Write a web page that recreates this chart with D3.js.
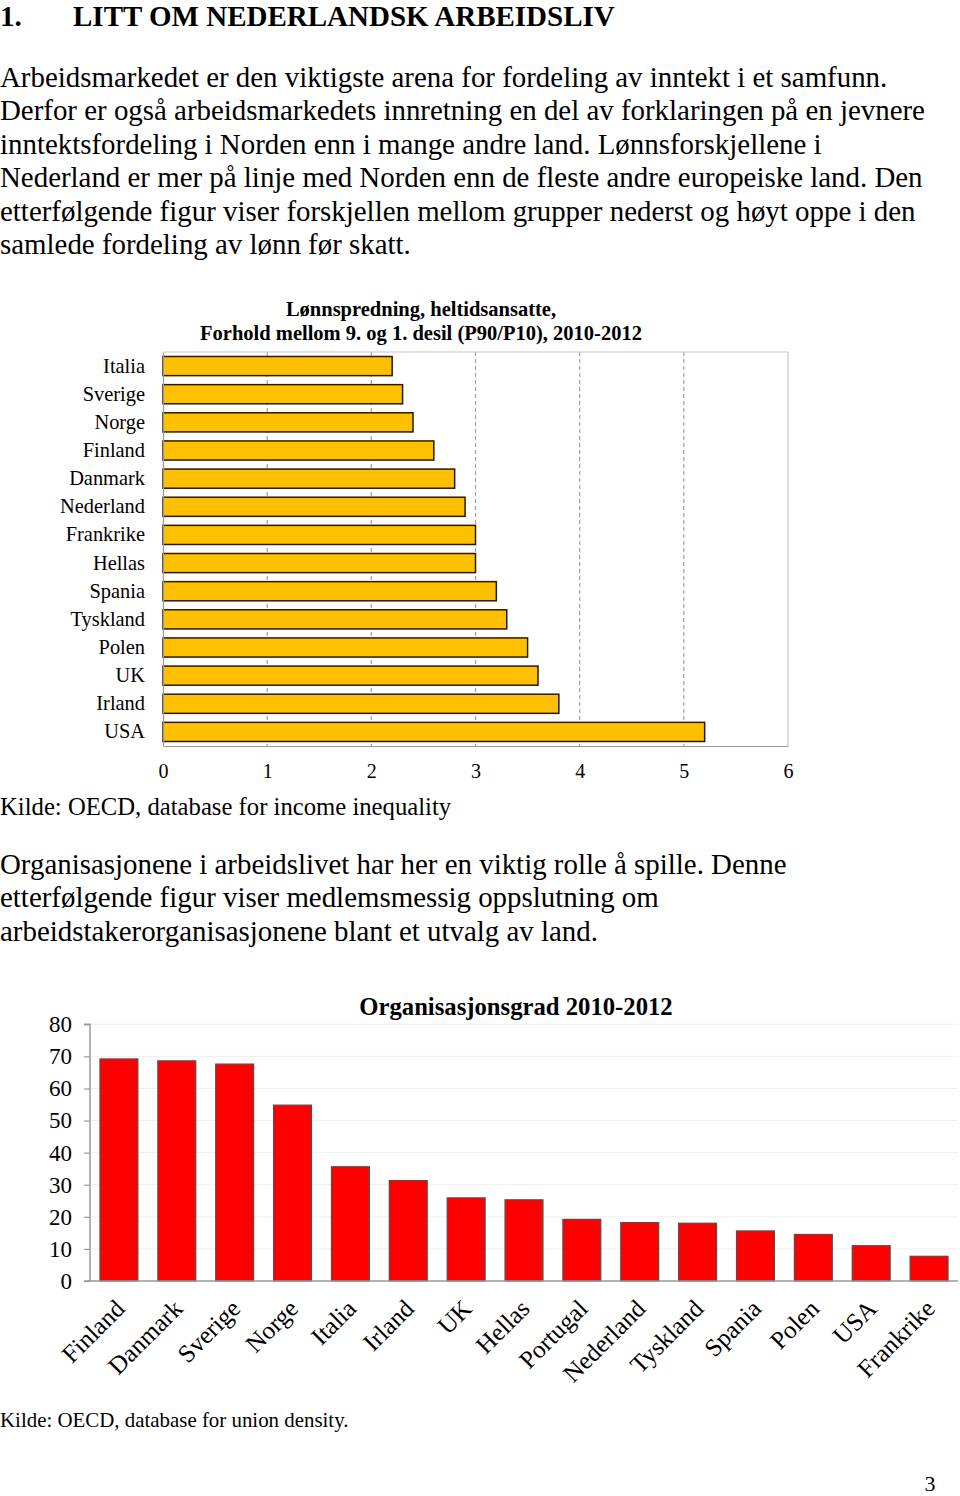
<!DOCTYPE html>
<html>
<head>
<meta charset="utf-8">
<script src="https://cdn.jsdelivr.net/npm/d3@7"></script>
<style>
  html, body { margin: 0; padding: 0; background: #fff; }
  svg { display: block; }
  text { font-family: "Liberation Serif", "Times New Roman", serif; fill: #000; }
</style>
</head>
<body>
<svg id="page" width="960" height="1496"></svg>
<script>
// ---- Data ----
const headingNumber = "1.";
const headingText = "LITT OM NEDERLANDSK ARBEIDSLIV";
const para1 = [
  "Arbeidsmarkedet er den viktigste arena for fordeling av inntekt i et samfunn.",
  "Derfor er også arbeidsmarkedets innretning en del av forklaringen på en jevnere",
  "inntektsfordeling i Norden enn i mange andre land. Lønnsforskjellene i",
  "Nederland er mer på linje med Norden enn de fleste andre europeiske land. Den",
  "etterfølgende figur viser forskjellen mellom grupper nederst og høyt oppe i den",
  "samlede fordeling av lønn før skatt."
];
const para2 = [
  "Organisasjonene i arbeidslivet har her en viktig rolle å spille. Denne",
  "etterfølgende figur viser medlemsmessig oppslutning om",
  "arbeidstakerorganisasjonene blant et utvalg av land."
];

const chart1Title = ["Lønnspredning, heltidsansatte,", "Forhold mellom 9. og 1. desil (P90/P10), 2010-2012"];
const chart1Countries = ["Italia","Sverige","Norge","Finland","Danmark","Nederland","Frankrike","Hellas","Spania","Tyskland","Polen","UK","Irland","USA"];
const chart1Values = [2.2, 2.3, 2.4, 2.6, 2.8, 2.9, 3.0, 3.0, 3.2, 3.3, 3.5, 3.6, 3.8, 5.2];
const chart1Ticks = [0, 1, 2, 3, 4, 5, 6];
const chart1Source = "Kilde: OECD, database for income inequality";

const chart2Title = "Organisasjonsgrad 2010-2012";
const chart2Countries = ["Finland","Danmark","Sverige","Norge","Italia","Irland","UK","Hellas","Portugal","Nederland","Tyskland","Spania","Polen","USA","Frankrike"];
const chart2Values = [69.2, 68.6, 67.6, 54.8, 35.6, 31.3, 25.9, 25.3, 19.2, 18.2, 18.0, 15.6, 14.5, 11.0, 7.7];
const chart2Ticks = [0, 10, 20, 30, 40, 50, 60, 70, 80];
const chart2Source = "Kilde: OECD, database for union density.";
const pageNumber = "3";

// ---- Page text ----
const svg = d3.select("#page");

svg.append("text").attr("x", 0).attr("y", 26).attr("font-size", 29).attr("font-weight", "bold").text(headingNumber);
svg.append("text").attr("x", 73).attr("y", 26).attr("font-size", 29).attr("font-weight", "bold").text(headingText);

svg.append("g").selectAll("text").data(para1).join("text")
  .attr("x", 0).attr("y", (d, i) => 87 + i * 33.4)
  .attr("font-size", 28.9).text(d => d);

svg.append("g").selectAll("text").data(para2).join("text")
  .attr("x", 0).attr("y", (d, i) => 874 + i * 33.4)
  .attr("font-size", 28.9).text(d => d);

// ---- Chart 1: horizontal bars ----
const c1 = { left: 163, right: 788, top: 352, bottom: 746 };
const x1 = d3.scaleLinear().domain([0, 6]).range([c1.left, c1.right]);
const y1 = d3.scaleBand().domain(chart1Countries).range([c1.top, c1.bottom]).paddingInner(0.32).paddingOuter(0.16);

const g1 = svg.append("g");

g1.append("g").selectAll("text").data(chart1Title).join("text")
  .attr("x", 421).attr("y", (d, i) => 316 + i * 24)
  .attr("text-anchor", "middle").attr("font-size", 20.5).attr("font-weight", "bold").text(d => d);

// gridlines (dashed) 1..5
g1.append("g").selectAll("line").data(chart1Ticks.filter(t => t > 0 && t < 6)).join("line")
  .attr("x1", d => x1(d)).attr("x2", d => x1(d))
  .attr("y1", c1.top).attr("y2", c1.bottom)
  .attr("stroke", "#a0a0a0").attr("stroke-width", 1.2).attr("stroke-dasharray", "4,3");
// frame: top, right solid light grey
g1.append("line").attr("x1", c1.left).attr("x2", c1.right).attr("y1", c1.top).attr("y2", c1.top)
  .attr("stroke", "#c8c8c8").attr("stroke-width", 1.2);
g1.append("line").attr("x1", x1(6)).attr("x2", x1(6)).attr("y1", c1.top).attr("y2", c1.bottom)
  .attr("stroke", "#c8c8c8").attr("stroke-width", 1.2);

// bars
g1.append("g").selectAll("rect").data(chart1Values).join("rect")
  .attr("x", x1(0))
  .attr("y", (d, i) => y1(chart1Countries[i]))
  .attr("width", d => x1(d) - x1(0))
  .attr("height", y1.bandwidth())
  .attr("fill", "#FFC000").attr("stroke", "#2a1a05").attr("stroke-width", 1.5);

// axes
const xAxis1 = d3.axisBottom(x1).tickValues(chart1Ticks).tickSize(0).tickPadding(18).tickFormat(d3.format("d"));
g1.append("g").attr("transform", `translate(0,${c1.bottom})`).call(xAxis1)
  .call(g => g.select(".domain").attr("stroke", "#999").attr("stroke-width", 1.2))
  .call(g => g.selectAll("text").attr("font-size", 20).attr("font-family", "Liberation Serif").attr("fill", "#000"));

const yAxis1 = d3.axisLeft(y1).tickSize(0).tickPadding(18);
g1.append("g").attr("transform", `translate(${c1.left},0)`).call(yAxis1)
  .call(g => g.select(".domain").attr("stroke", "#999").attr("stroke-width", 1.2))
  .call(g => g.selectAll("text").attr("font-size", 20.4).attr("font-family", "Liberation Serif").attr("fill", "#000"));

svg.append("text").attr("x", 0).attr("y", 815).attr("font-size", 24.7).text(chart1Source);

// ---- Chart 2: vertical bars ----
const c2 = { left: 90, right: 958, top: 1024.3, bottom: 1281 };
const y2 = d3.scaleLinear().domain([0, 80]).range([c2.bottom, c2.top]);
const x2 = d3.scaleBand().domain(chart2Countries).range([c2.left, c2.right]).paddingInner(0.345).paddingOuter(0.1725);

const g2 = svg.append("g");
g2.append("text").attr("x", 516).attr("y", 1015).attr("text-anchor", "middle")
  .attr("font-size", 24.7).attr("font-weight", "bold").text(chart2Title);

// gridlines
g2.append("g").selectAll("line").data(chart2Ticks.filter(t => t > 0)).join("line")
  .attr("x1", c2.left).attr("x2", c2.right)
  .attr("y1", d => y2(d)).attr("y2", d => y2(d))
  .attr("stroke", "#efefef").attr("stroke-width", 1);

// bars
g2.append("g").selectAll("rect").data(chart2Values).join("rect")
  .attr("x", (d, i) => x2(chart2Countries[i]))
  .attr("y", d => y2(d))
  .attr("width", x2.bandwidth())
  .attr("height", d => y2(0) - y2(d))
  .attr("fill", "#FF0000").attr("stroke", "#5a4a4a").attr("stroke-width", 1.2);

// y axis
const yAxis2 = d3.axisLeft(y2).tickValues(chart2Ticks).tickSize(6).tickPadding(12).tickFormat(d3.format("d"));
g2.append("g").attr("transform", `translate(${c2.left},0)`).call(yAxis2)
  .call(g => g.select(".domain").attr("stroke", "#999").attr("stroke-width", 1.5).attr("d", `M-6,${y2(80)}H0V${y2(0)}`))
  .call(g => g.selectAll(".tick line").attr("stroke", "#999").attr("stroke-width", 1.2))
  .call(g => g.selectAll("text").attr("font-size", 23).attr("font-family", "Liberation Serif").attr("fill", "#000"));

// x axis baseline
g2.append("line").attr("x1", c2.left - 6).attr("x2", c2.right).attr("y1", c2.bottom).attr("y2", c2.bottom)
  .attr("stroke", "#999").attr("stroke-width", 1.5);

// rotated category labels
g2.append("g").selectAll("text").data(chart2Countries).join("text")
  .attr("transform", d => `translate(${x2(d) + x2.bandwidth() / 2 + 1},${c2.bottom + 23}) rotate(-45)`)
  .attr("text-anchor", "end").attr("dy", "0.35em")
  .attr("font-size", 25).text(d => d);

svg.append("text").attr("x", 0).attr("y", 1427).attr("font-size", 20.9).text(chart2Source);
svg.append("text").attr("x", 930).attr("y", 1491).attr("text-anchor", "middle").attr("font-size", 22).text(pageNumber);
</script>
</body>
</html>
